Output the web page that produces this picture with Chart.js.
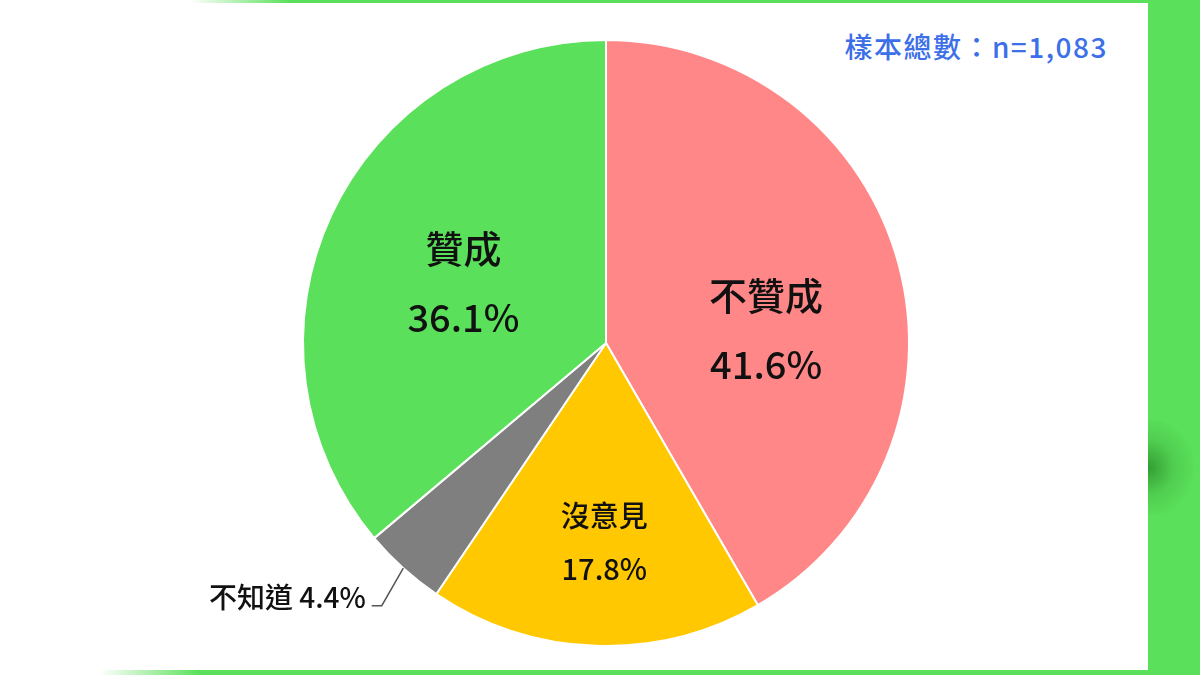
<!DOCTYPE html>
<html>
<head>
<meta charset="utf-8">
<script src="https://cdn.jsdelivr.net/npm/chart.js@4.4.0/dist/chart.umd.min.js"></script>
<style>
  html, body { margin: 0; padding: 0; }
  body { width: 1200px; height: 675px; position: relative; overflow: hidden; background: #ffffff; font-family: "Noto Sans CJK TC", "Noto Sans", sans-serif; }
  .strip-right { position: absolute; left: 1148px; top: 0; width: 52px; height: 675px; background: #5ae05a; overflow: hidden; }
  .shadow { position: absolute; left: 0; top: 420px; width: 45px; height: 95px; background: radial-gradient(ellipse at left center, rgba(40,140,40,0.8) 0%, rgba(60,170,60,0.35) 40%, rgba(90,224,90,0) 75%); }
  .strip-top { position: absolute; left: 0; top: 0; width: 1148px; height: 3px; background: linear-gradient(to right, rgba(90,224,90,0) 190px, #5ae05a 290px); }
  .strip-bottom { position: absolute; left: 0; top: 670px; width: 1148px; height: 5px; background: linear-gradient(to right, rgba(90,224,90,0) 100px, #5ae05a 200px); }
  .sample { position: absolute; right: 92px; top: 28px; font-size: 28px; font-weight: 500; letter-spacing: 1.5px; color: #3c6fe8; line-height: 36px; white-space: nowrap; }
  canvas { position: absolute; left: 0; top: 0; }
</style>
</head>
<body>
<div class="strip-right"><div class="shadow"></div></div>
<div class="strip-top"></div>
<div class="strip-bottom"></div>
<div class="sample">樣本總數：n=1,083</div>
<canvas id="chartPie" width="1200" height="675"></canvas>
<script>
const categories = ['不贊成', '沒意見', '不知道', '贊成'];
const shares = [41.6, 17.8, 4.4, 36.1];
const sliceColors = ['#ff8787', '#ffc800', '#7f7f7f', '#5ae05a'];

// label placement per slice: radius fraction, angle nudge (deg), font size, line gap, outside?
const labelStyle = [
  { r: 0.53, nudge: 10.5, size: 38, gap: 69, outside: false },
  { r: 0.66, nudge: -1.5, size: 29, gap: 53, outside: false },
  { r: 1.14, nudge: -1.5, size: 28, gap: 0, outside: true },
  { r: 0.51, nudge: -2.3, size: 38, gap: 69, outside: false },
]

const sliceLabels = {
  id: 'sliceLabels',
  afterDatasetsDraw(chart) {
    const ctx = chart.ctx
    const arcs = chart.getDatasetMeta(0).data
    arcs.forEach((arc, i) => {
      const st = labelStyle[i]
      const { x, y, startAngle, endAngle, outerRadius } = arc.getProps(['x', 'y', 'startAngle', 'endAngle', 'outerRadius'])
      const mid = (startAngle + endAngle) / 2
      const a = mid + st.nudge * Math.PI / 180
      const pct = shares[i].toFixed(1) + '%'
      ctx.save()
      ctx.fillStyle = '#111111'
      ctx.textBaseline = 'middle'
      ctx.font = '500 ' + st.size + 'px "Noto Sans CJK TC"'
      if (st.outside) {
        const x0 = x + Math.cos(mid) * outerRadius
        const y0 = y + Math.sin(mid) * outerRadius
        const x1 = x + Math.cos(a) * outerRadius * st.r
        const y1 = y + Math.sin(a) * outerRadius * st.r
        ctx.strokeStyle = '#555555'
        ctx.lineWidth = 1.5
        ctx.beginPath()
        ctx.moveTo(x0, y0)
        ctx.lineTo(x1, y1)
        ctx.lineTo(x1 - 10, y1)
        ctx.stroke()
        ctx.textAlign = 'right'
        ctx.fillText(categories[i] + ' ' + pct, x1 - 16, y1 - 8)
      } else {
        const cx = x + Math.cos(a) * outerRadius * st.r
        const cy = y + Math.sin(a) * outerRadius * st.r
        ctx.textAlign = 'center'
        ctx.fillText(categories[i], cx, cy - st.gap / 2)
        ctx.fillText(pct, cx, cy + st.gap / 2)
      }
      ctx.restore()
    })
  },
}

const dataPie = {
  labels: categories,
  datasets: [
    {
      data: shares,
      backgroundColor: sliceColors,
      borderColor: '#ffffff',
      borderWidth: 2,
    },
  ],
}

const configPie = {
  type: 'pie',
  data: dataPie,
  options: {
    responsive: false,
    animation: false,
    layout: { padding: { left: 302, right: 290, top: 39, bottom: 28 } },
    plugins: {
      legend: { display: false },
      tooltip: { enabled: false },
    },
  },
  plugins: [sliceLabels],
}

var chartPie = new Chart(document.getElementById('chartPie'), configPie)
</script>
</body>
</html>
